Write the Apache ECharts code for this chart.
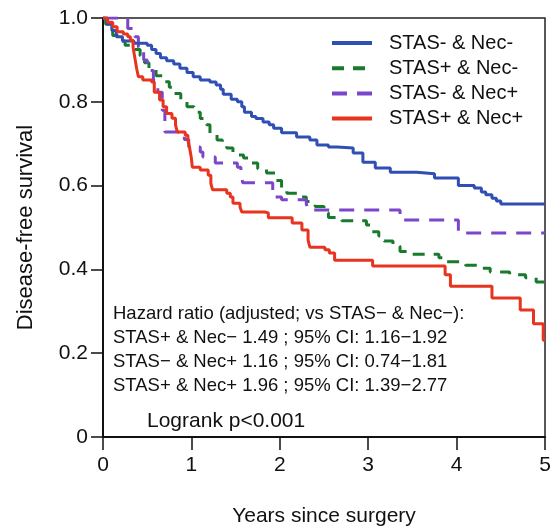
<!DOCTYPE html>
<html>
<head>
<meta charset="utf-8">
<script src="https://cdn.jsdelivr.net/npm/echarts@6/dist/echarts.min.js"></script>
<style>
html,body{margin:0;padding:0;background:#fff;}
#c{width:558px;height:528px;}
</style>
</head>
<body>
<div id="c"></div>
<script>
// Series names
const seriesNames = ['STAS- & Nec-', 'STAS+ & Nec-', 'STAS- & Nec+', 'STAS+ & Nec+'];

// STAS- & Nec- (blue)
const blueT = [0,0.05,0.10,0.15,0.22,0.35,0.50,0.55,0.60,0.65,0.72,0.80,0.87,0.95,1.02,1.10,1.21,1.28,1.33,1.36,1.45,1.52,1.57,1.60,1.68,1.73,1.81,1.88,1.93,2.02,2.19,2.34,2.42,2.55,2.65,2.83,2.94,3.08,3.25,3.55,3.75,4.02,4.20,4.28,4.33,4.40,4.45,4.50,5.0];
const blueS = [1.0,0.985,0.97,0.955,0.945,0.94,0.935,0.925,0.915,0.905,0.898,0.89,0.88,0.87,0.86,0.852,0.847,0.84,0.83,0.818,0.806,0.80,0.788,0.775,0.765,0.76,0.752,0.745,0.737,0.726,0.716,0.709,0.697,0.692,0.69,0.678,0.656,0.642,0.632,0.628,0.618,0.60,0.594,0.585,0.578,0.57,0.563,0.556,0.556];

// STAS+ & Nec- (green)
const greenT = [0,0.03,0.07,0.11,0.18,0.25,0.35,0.42,0.47,0.52,0.60,0.68,0.75,0.80,0.88,0.95,1.03,1.10,1.17,1.21,1.29,1.35,1.40,1.47,1.53,1.59,1.66,1.75,1.85,1.95,2.02,2.08,2.20,2.30,2.40,2.50,2.55,2.70,2.98,3.04,3.12,3.18,3.28,3.36,3.50,3.80,3.88,4.10,4.28,4.38,4.60,4.78,4.90,5.0];
const greenS = [1.0,0.985,0.97,0.958,0.945,0.935,0.925,0.91,0.893,0.878,0.862,0.848,0.835,0.82,0.805,0.788,0.775,0.76,0.745,0.725,0.709,0.70,0.69,0.68,0.673,0.666,0.654,0.64,0.63,0.612,0.595,0.582,0.573,0.562,0.55,0.535,0.524,0.516,0.506,0.49,0.48,0.468,0.455,0.443,0.436,0.428,0.418,0.41,0.403,0.394,0.387,0.38,0.37,0.37];

// STAS- & Nec+ (purple)
const purpleT = [0,0.28,0.36,0.40,0.46,0.50,0.57,0.62,0.67,0.70,0.92,0.97,1.10,1.13,1.27,1.52,1.56,1.58,1.92,2.02,2.30,2.32,3.36,4.02,5.0];
const purpleS = [1.0,0.975,0.955,0.93,0.90,0.875,0.85,0.823,0.78,0.728,0.71,0.692,0.68,0.668,0.654,0.644,0.63,0.607,0.573,0.566,0.556,0.542,0.518,0.487,0.487];

// STAS+ & Nec+ (red)
const redT = [0,0.05,0.11,0.16,0.23,0.28,0.31,0.34,0.36,0.38,0.40,0.45,0.55,0.58,0.64,0.68,0.72,0.78,0.82,0.84,0.93,0.96,0.98,1.00,1.01,1.10,1.19,1.22,1.24,1.40,1.44,1.47,1.55,1.57,1.83,1.87,2.14,2.25,2.32,2.34,2.51,2.56,2.62,3.05,3.87,3.93,4.40,4.72,4.87,4.98,5.0];
const redS = [1.0,0.99,0.979,0.967,0.962,0.955,0.947,0.93,0.905,0.88,0.86,0.852,0.847,0.823,0.804,0.788,0.772,0.761,0.745,0.728,0.72,0.709,0.69,0.665,0.644,0.637,0.625,0.605,0.59,0.582,0.573,0.558,0.549,0.537,0.535,0.523,0.511,0.494,0.47,0.453,0.447,0.439,0.422,0.408,0.387,0.36,0.332,0.303,0.27,0.231,0.231];

// Tick labels
const xTicks = [0,1,2,3,4,5];
const yTickLabels = {0:'0', 0.2:'0.2', 0.4:'0.4', 0.6:'0.6', 0.8:'0.8', 1:'1.0'};

const hazardLines = [
  'Hazard ratio (adjusted; vs STAS\u2212 & Nec\u2212):',
  'STAS+ & Nec\u2212 1.49 ; 95% CI: 1.16\u22121.92',
  'STAS\u2212 & Nec+ 1.16 ; 95% CI: 0.74\u22121.81',
  'STAS+ & Nec+ 1.96 ; 95% CI: 1.39\u22122.77'
];
const logrankText = 'Logrank p<0.001';

const colors = ['#2f4fb4', '#187a2c', '#7b46c9', '#e8331f'];
const dashes = ['solid', [12, 9], [15, 10], 'solid'];

function zip(t, s){ return t.map((v,i)=>[v, s[i]]); }
const allData = [zip(blueT,blueS), zip(greenT,greenS), zip(purpleT,purpleS), zip(redT,redS)];

const FONT = 'Liberation Sans, Arial, Helvetica, sans-serif';
const chart = echarts.init(document.getElementById('c'), null, {renderer:'canvas'});

const option = {
  backgroundColor: '#fff',
  animation: false,
  grid: {left:103, right:13, top:18, bottom:91, containLabel:false, outerBoundsMode:'none',
         show:true, borderColor:'#222', borderWidth:1.5, backgroundColor:'transparent'},
  xAxis: {
    type:'value', min:0, max:5, interval:1,
    name:'Years since surgery', nameLocation:'middle', nameGap:69,
    nameTextStyle:{fontFamily:FONT, fontSize:21, color:'#111'},
    axisLine:{show:true, lineStyle:{color:'#111', width:2}},
    axisTick:{show:true, length:13, lineStyle:{color:'#111', width:1.5}},
    axisLabel:{fontFamily:FONT, fontSize:21, color:'#111', margin:18,
      formatter: v => xTicks.includes(v) ? String(v) : ''},
    splitLine:{show:false}
  },
  yAxis: {
    type:'value', min:0, max:1, interval:0.2,
    name:'Disease-free survival', nameLocation:'middle', nameGap:66, nameRotate:90,
    nameTextStyle:{fontFamily:FONT, fontSize:22, color:'#111'},
    axisLine:{show:true, lineStyle:{color:'#111', width:2}},
    axisTick:{show:true, length:12, lineStyle:{color:'#111', width:1.5}},
    axisLabel:{fontFamily:FONT, fontSize:21, color:'#111', margin:15,
      formatter: v => { const k = Math.round(v*10)/10; return yTickLabels[k] !== undefined ? yTickLabels[k] : ''; }},
    splitLine:{show:false}
  },
  legend: {
    orient:'vertical', left:330, top:33, padding:0,
    itemWidth:40, itemHeight:14, itemGap:5.2,
    data: seriesNames,
    itemStyle:{color:'transparent', borderWidth:0, opacity:0},
    lineStyle:{width:4},
    textStyle:{fontFamily:FONT, fontSize:20, color:'#111', lineHeight:20, padding:[0,0,0,12]}
  },
  graphic: [
    {type:'text', left:113, top:302, z:10,
     style:{text: hazardLines.join('\n'), font:'18.5px Liberation Sans, Arial, sans-serif', fill:'#111', lineHeight:24}},
    {type:'text', left:147, top:411, z:10,
     style:{text: logrankText, font:'21px Liberation Sans, Arial, sans-serif', fill:'#111'}}
  ],
  series: seriesNames.map((n,i)=>({
    name:n, type:'line', step:'end', data: allData[i],
    showSymbol:false, symbol:'none',
    lineStyle:{color:colors[i], width:3, type:dashes[i]},
    itemStyle:{color:colors[i]},
    z: [3,2,2,4][i]
  }))
};
chart.setOption(option);
</script>
</body>
</html>
